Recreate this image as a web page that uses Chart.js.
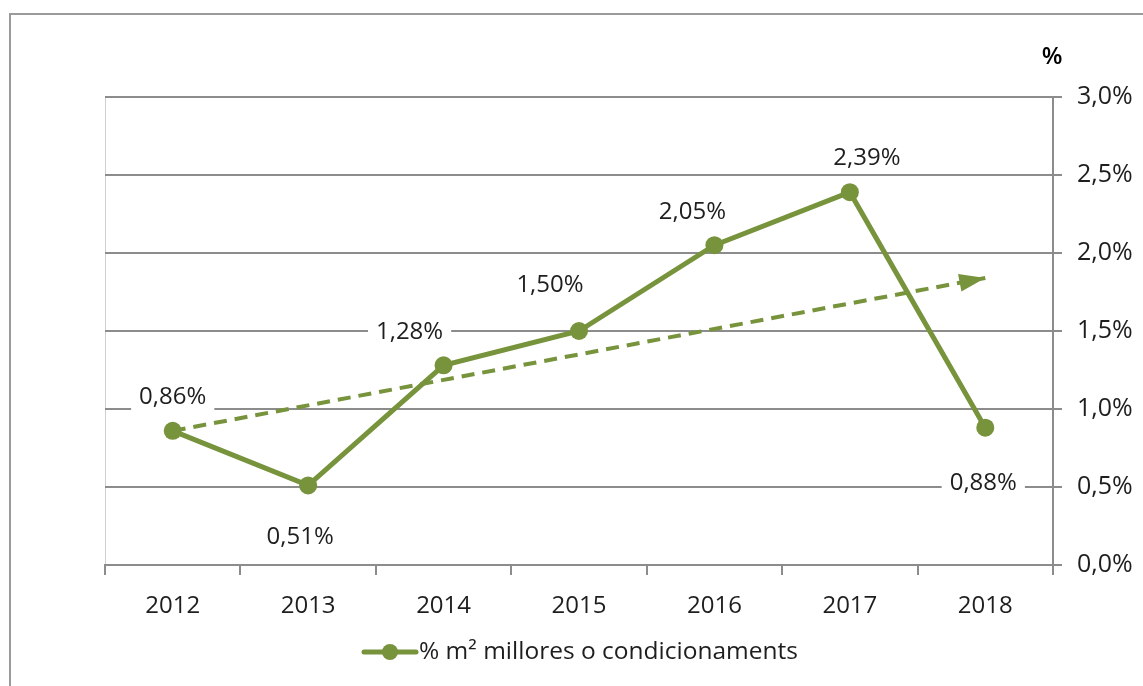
<!DOCTYPE html>
<html>
<head>
<meta charset="utf-8">
<script src="https://cdn.jsdelivr.net/npm/chart.js@4/dist/chart.umd.min.js"></script>
<style>
  html, body { margin: 0; padding: 0; background: #fff; }
  #wrap { width: 1143px; height: 686px; position: relative; }
</style>
</head>
<body>
<div id="wrap"><canvas id="chart" width="1143" height="686"></canvas></div>
<script>
const years = ['2012', '2013', '2014', '2015', '2016', '2017', '2018']
const shares = [0.86, 0.51, 1.28, 1.50, 2.05, 2.39, 0.88]
const trend = [0.86, null, null, null, null, null, 1.84]
const yTicks = [0, 0.5, 1, 1.5, 2, 2.5, 3]
const seriesName = '% m² millores o condicionaments'

const green = '#77933C'
const grey = '#8c8c8c'
const font = '"Open Sans", "Noto Sans", sans-serif'

// where each value label sits relative to its point
const labelShift = [[0, -34], [-8, 52], [-34, -33], [-29, -46], [-22, -33], [17, -34], [-2, 55]]

const fmt = v => v.toFixed(1).replace('.', ',') + '%'

const extras = {
  id: 'extras',
  beforeDraw(chart) {
    const ctx = chart.ctx
    const a = chart.chartArea
    ctx.save()
    // outer frame
    ctx.strokeStyle = '#9a9a9a'
    ctx.lineWidth = 2
    ctx.beginPath()
    ctx.moveTo(10, 686)
    ctx.lineTo(10, 14)
    ctx.lineTo(1143, 14)
    ctx.stroke()
    // faint left edge of plot
    ctx.strokeStyle = '#d0d0d0'
    ctx.lineWidth = 1
    ctx.beginPath()
    ctx.moveTo(a.left + 0.5, a.top)
    ctx.lineTo(a.left + 0.5, a.bottom)
    ctx.stroke()
    ctx.restore()
  },
  afterDatasetsDraw(chart) {
    const ctx = chart.ctx
    const meta = chart.getDatasetMeta(0)
    const tmeta = chart.getDatasetMeta(1)
    ctx.save()
    // arrow head on trend
    const p0 = tmeta.data[0], p1 = tmeta.data[6]
    const ang = Math.atan2(p1.y - p0.y, p1.x - p0.x)
    ctx.fillStyle = green
    ctx.translate(p1.x, p1.y)
    ctx.rotate(ang)
    ctx.beginPath()
    ctx.moveTo(0, 0)
    ctx.lineTo(-26, -9)
    ctx.lineTo(-26, 9)
    ctx.closePath()
    ctx.fill()
    ctx.setTransform(1, 0, 0, 1, 0, 0)

    // value labels with white boxes
    ctx.font = '24px ' + font
    ctx.textAlign = 'center'
    ctx.textBaseline = 'middle'
    meta.data.forEach((pt, i) => {
      const txt = shares[i].toFixed(2).replace('.', ',') + '%'
      const x = pt.x + labelShift[i][0]
      const y = pt.y + labelShift[i][1]
      const w = ctx.measureText(txt).width + 16
      ctx.fillStyle = '#fff'
      ctx.fillRect(x - w / 2, y - 15, w, 30)
      ctx.fillStyle = '#1e1e1e'
      ctx.fillText(txt, x, y)
    })

    // axis unit
    ctx.font = '600 24px ' + font
    ctx.textAlign = 'center'
    ctx.fillStyle = '#000'
    ctx.fillText('%', 1052, 57)

    // legend
    const ly = 652
    ctx.strokeStyle = green
    ctx.lineWidth = 5
    ctx.lineCap = 'round'
    ctx.beginPath()
    ctx.moveTo(364, ly)
    ctx.lineTo(416, ly)
    ctx.stroke()
    ctx.fillStyle = green
    ctx.beginPath()
    ctx.arc(390, ly, 8, 0, Math.PI * 2)
    ctx.fill()
    ctx.font = '24.5px ' + font
    ctx.fillStyle = '#1e1e1e'
    ctx.textAlign = 'left'
    ctx.fillText(seriesName, 419, ly)
    ctx.restore()
  }
}

new Chart(document.getElementById('chart'), {
  type: 'line',
  data: {
    labels: years,
    datasets: [
      {
        label: seriesName,
        data: shares,
        borderColor: green,
        backgroundColor: green,
        borderWidth: 5,
        pointRadius: 9,
        pointHoverRadius: 9,
        pointBorderWidth: 0,
        tension: 0,
        order: 2
      },
      {
        label: 'tendència',
        data: trend,
        spanGaps: true,
        borderColor: green,
        borderWidth: 4,
        borderDash: [13, 8],
        pointRadius: 0,
        tension: 0,
        order: 1
      }
    ]
  },
  options: {
    responsive: false,
    animation: false,
    devicePixelRatio: 1,
    layout: { padding: { left: 105, top: 97, right: 0, bottom: 0 } },
    plugins: { legend: { display: false }, tooltip: { enabled: false } },
    scales: {
      x: {
        offset: true,
        grid: {
          offset: true,
          drawOnChartArea: false,
          drawTicks: true,
          tickLength: 10,
          color: grey,
          lineWidth: 2
        },
        border: { color: grey, width: 2 },
        ticks: { color: '#1e1e1e', font: { family: font, size: 24 }, padding: 17, maxRotation: 0 },
        afterFit(s) { s.height = 121 }
      },
      y: {
        position: 'right',
        min: 0,
        max: 3,
        afterBuildTicks(s) { s.ticks = yTicks.map(v => ({ value: v })) },
        grid: { color: grey, lineWidth: 2, tickLength: 9 },
        border: { color: grey, width: 2 },
        ticks: {
          color: '#1e1e1e',
          font: { family: font, size: 25 },
          padding: 15,
          callback: v => fmt(v)
        },
        afterFit(s) { s.width = 90 }
      }
    }
  },
  plugins: [extras]
})
</script>
</body>
</html>
